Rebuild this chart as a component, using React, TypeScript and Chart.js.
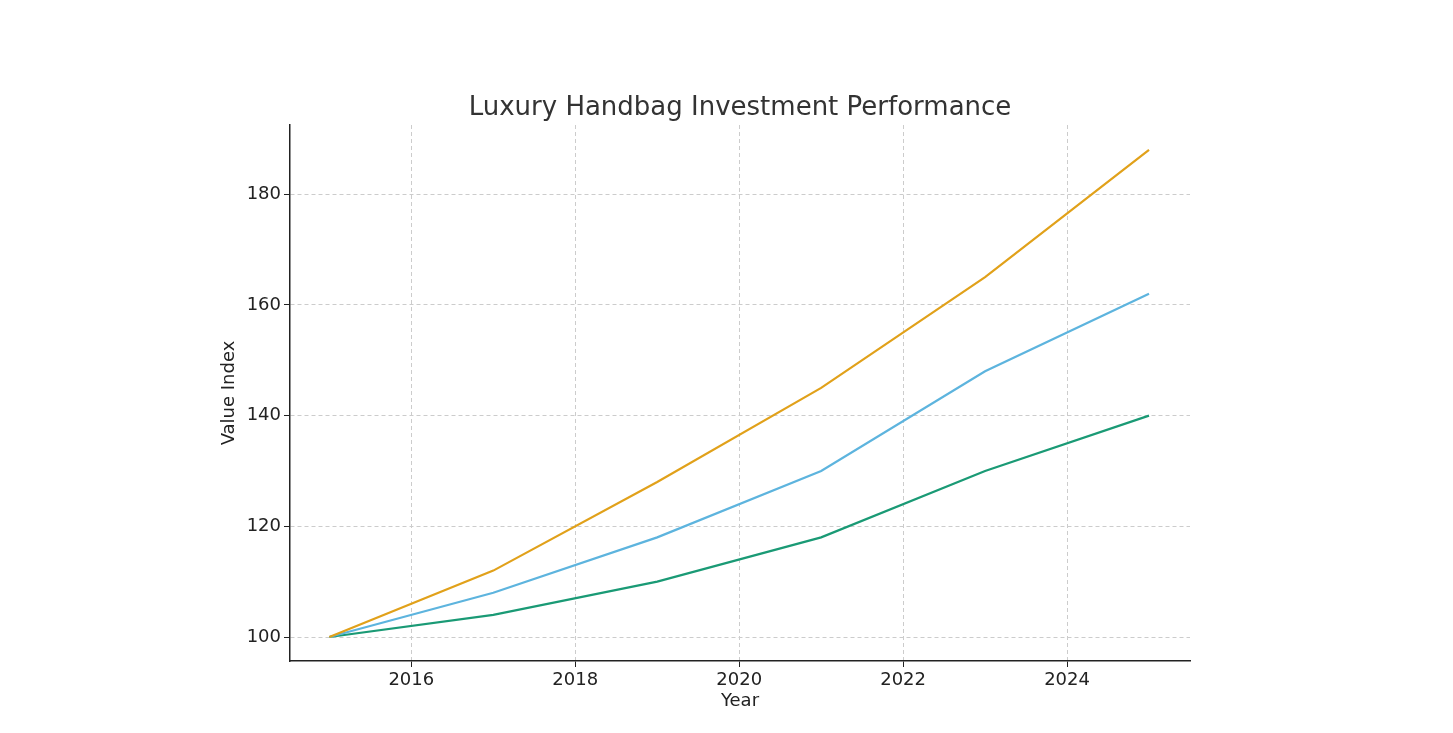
import React, { useEffect, useRef } from "react";
import { Chart, registerables } from "chart.js";
Chart.register(...registerables);

const years = [2015, 2017, 2019, 2021, 2023, 2025];
const seriesA = [100, 112, 128, 145, 165, 188];
const seriesB = [100, 108, 118, 130, 148, 162];
const seriesC = [100, 104, 110, 118, 130, 140];
const xTicks = [2016, 2018, 2020, 2022, 2024];
const yTicks = [100, 120, 140, 160, 180];
const titleText = "Luxury Handbag Investment Performance";
const xTitle = "Year";
const yTitle = "Value Index";

const titlePlugin = {
  id: "ttl",
  afterDraw(chart: any) {
    const { ctx, chartArea } = chart;
    const cx = (chartArea.left + chartArea.right) / 2;
    ctx.save();
    ctx.font = "26px 'DejaVu Sans'";
    ctx.fillStyle = "#333";
    ctx.textAlign = "center";
    ctx.textBaseline = "alphabetic";
    ctx.fillText(titleText, cx, 115);
    ctx.font = "18px 'DejaVu Sans'";
    ctx.fillStyle = "#222";
    ctx.textBaseline = "middle";
    ctx.fillText(xTitle, cx, 701);
    ctx.translate(229, (chartArea.top + chartArea.bottom) / 2);
    ctx.rotate(-Math.PI / 2);
    ctx.fillText(yTitle, 0, 0);
    ctx.restore();
  },
};

export default function App() {
  const ref = useRef<HTMLCanvasElement>(null);
  useEffect(() => {
    const mk = (d: number[]) => d.map((v, i) => ({ x: years[i], y: v }));
    const font = { family: "'DejaVu Sans'", size: 18 };
    const chart = new Chart(ref.current!, {
      type: "line",
      data: {
        datasets: [
          { data: mk(seriesA), borderColor: "#E1A11A", borderWidth: 2.2, pointRadius: 0, tension: 0 },
          { data: mk(seriesB), borderColor: "#5DB4DE", borderWidth: 2.2, pointRadius: 0, tension: 0 },
          { data: mk(seriesC), borderColor: "#1A9A75", borderWidth: 2.2, pointRadius: 0, tension: 0 },
        ],
      },
      options: {
        animation: false,
        responsive: false,
        layout: { padding: { top: 125, right: 263, left: 0, bottom: 0 } },
        plugins: { legend: { display: false }, tooltip: { enabled: false } },
        scales: {
          x: {
            type: "linear",
            min: 2014.52,
            max: 2025.5,
            afterBuildTicks: (s: any) => { s.ticks = xTicks.map((v) => ({ value: v })); },
            afterFit: (s: any) => { s.height = 72; },
            ticks: { color: "#222", font, callback: (v: any) => String(v), maxRotation: 0 },
            grid: { color: "#ccc", tickColor: "#222", tickLength: 6 },
            border: { color: "#222", width: 1.5, dash: [4, 3] } as any,
          },
          y: {
            min: 95.67,
            max: 192.5,
            afterBuildTicks: (s: any) => { s.ticks = yTicks.map((v) => ({ value: v })); },
            afterFit: (s: any) => { s.width = 290; },
            ticks: { color: "#222", font },
            grid: { color: "#ccc", tickColor: "#222", tickLength: 6 },
            border: { color: "#222", width: 1.5, dash: [4, 3] } as any,
          },
        },
      },
      plugins: [titlePlugin],
    } as any);
    return () => chart.destroy();
  }, []);
  return (
    <div style={{ position: "fixed", left: 0, top: 0, width: 1453, height: 733, background: "#fff" }}>
      <canvas ref={ref} width={1453} height={733} style={{ width: 1453, height: 733 }} />
    </div>
  );
}
